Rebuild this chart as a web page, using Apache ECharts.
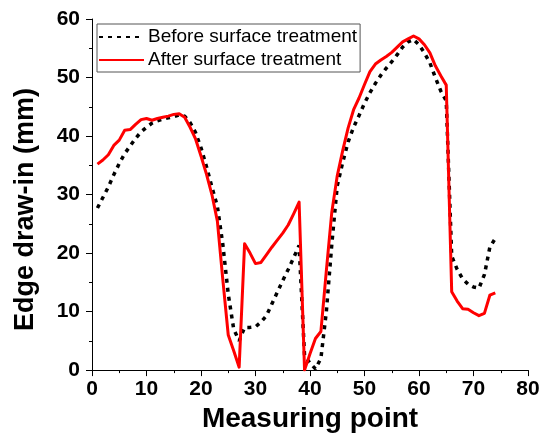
<!DOCTYPE html>
<html>
<head>
<meta charset="utf-8">
<script src="https://cdn.jsdelivr.net/npm/echarts@6/dist/echarts.min.js"></script>
<style>
html,body{margin:0;padding:0;background:#fff;}
#chart{width:547px;height:438px;}
</style>
</head>
<body>
<div id="chart"></div>
<script>
var points = [1,2,3,4,5,6,7,8,9,10,11,12,13,14,15,16,17,18,19,20,21,22,23,24,25,26,27,28,29,30,31,32,33,34,35,36,37,38,39,40,41,42,43,44,45,46,47,48,49,50,51,52,53,54,55,56,57,58,59,60,61,62,63,64,65,66,67,68,69,70,71,72,73,74];
var before = [27.7,29.5,31.3,33.4,35.3,37.0,38.3,39.6,40.7,41.5,42.2,42.6,42.9,43.1,43.3,43.6,43.4,42.3,40.6,38.0,34.8,31.3,28.0,21.5,13.0,7.0,5.0,7.3,7.3,7.4,8.2,9.3,11.3,13.3,15.3,17.2,19.2,21.3,2.5,1.2,0.2,2.0,10.0,21.5,31.5,35.5,39.0,41.5,43.5,45.6,47.4,49.0,50.4,51.6,52.7,53.9,55.2,56.1,56.5,55.6,54.2,52.5,50.0,47.7,46.0,19.5,17.2,15.6,14.7,14.2,14.0,16.3,21.0,22.5];
var after = [35.2,35.9,36.8,38.4,39.3,41.0,41.1,42.0,42.8,43.0,42.7,43.0,43.2,43.4,43.7,43.8,43.2,41.5,39.5,36.6,33.5,30.0,25.5,15.5,6.0,3.3,0.5,21.6,20.0,18.2,18.4,19.7,21.0,22.2,23.4,24.8,26.7,28.7,0.0,2.8,5.4,6.6,17.0,27.0,33.2,37.5,41.4,44.5,46.5,48.8,51.0,52.3,53.0,53.6,54.3,55.2,56.1,56.6,57.1,56.6,55.6,54.2,52.0,50.3,48.7,13.4,11.8,10.5,10.4,9.8,9.3,9.7,12.8,13.2];
var xTicks = [0,10,20,30,40,50,60,70,80];
var yTicks = [0,10,20,30,40,50,60];
var seriesNames = ['Before surface treatment','After surface treatment'];

function pairs(xs, ys){ return xs.map(function(x,i){ return [x, ys[i]]; }); }

var chart = echarts.init(document.getElementById('chart'), null, {renderer:'canvas'});
var axisFont = {fontFamily:'Liberation Sans, Arial, sans-serif', fontWeight:'bold', color:'#000'};
chart.setOption({
  animation:false,
  backgroundColor:'#fff',
  grid:{left:92,right:19,top:19,bottom:66,containLabel:false},
  legend:{
    orient:'vertical', left:97, top:24,
    data:[{name:seriesNames[0]},{name:seriesNames[1]}],
    itemWidth:45, itemHeight:12, itemGap:3,
    padding:[3,3,2,1],
    borderColor:'#555', borderWidth:1, borderRadius:0,
    itemStyle:{opacity:0},
    textStyle:{fontFamily:'Liberation Sans, Arial, sans-serif', fontSize:19, color:'#000', lineHeight:20, padding:[0,0,0,-1]}
  },
  xAxis:{
    type:'value', min:xTicks[0], max:xTicks[xTicks.length-1], interval:10,
    name:'Measuring point', nameLocation:'middle', nameGap:32,
    nameTextStyle:Object.assign({fontSize:28}, axisFont),
    axisLine:{onZero:false, lineStyle:{color:'#000', width:1}},
    axisTick:{show:true, inside:false, length:6, lineStyle:{color:'#000'}},
    minorTick:{show:true, splitNumber:2, length:3, lineStyle:{color:'#000'}},
    splitLine:{show:false},
    axisLabel:Object.assign({fontSize:21, margin:9, showMaxLabel:true, showMinLabel:true}, axisFont)
  },
  yAxis:{
    type:'value', min:yTicks[0], max:yTicks[yTicks.length-1], interval:10,
    name:'Edge draw-in (mm)', nameLocation:'middle', nameGap:53, nameRotate:90,
    nameTextStyle:Object.assign({fontSize:27, padding:[0,30,0,0]}, axisFont),
    axisLine:{show:true, lineStyle:{color:'#000', width:1}},
    axisTick:{show:true, inside:false, length:6, lineStyle:{color:'#000'}},
    minorTick:{show:true, splitNumber:2, length:3, lineStyle:{color:'#000'}},
    splitLine:{show:false},
    axisLabel:Object.assign({fontSize:21, margin:12}, axisFont)
  },
  series:[
    {name:seriesNames[0], type:'line', data:pairs(points, before), symbol:'none', smooth:false,
     lineStyle:{color:'#000', width:3.5, type:[4,5], cap:'butt'}, itemStyle:{color:'#000'}, z:2},
    {name:seriesNames[1], type:'line', data:pairs(points, after), symbol:'none', smooth:false,
     lineStyle:{color:'#ff0000', width:3, type:'solid', join:'round'}, itemStyle:{color:'#ff0000'}, z:3}
  ]
});
</script>
</body>
</html>
